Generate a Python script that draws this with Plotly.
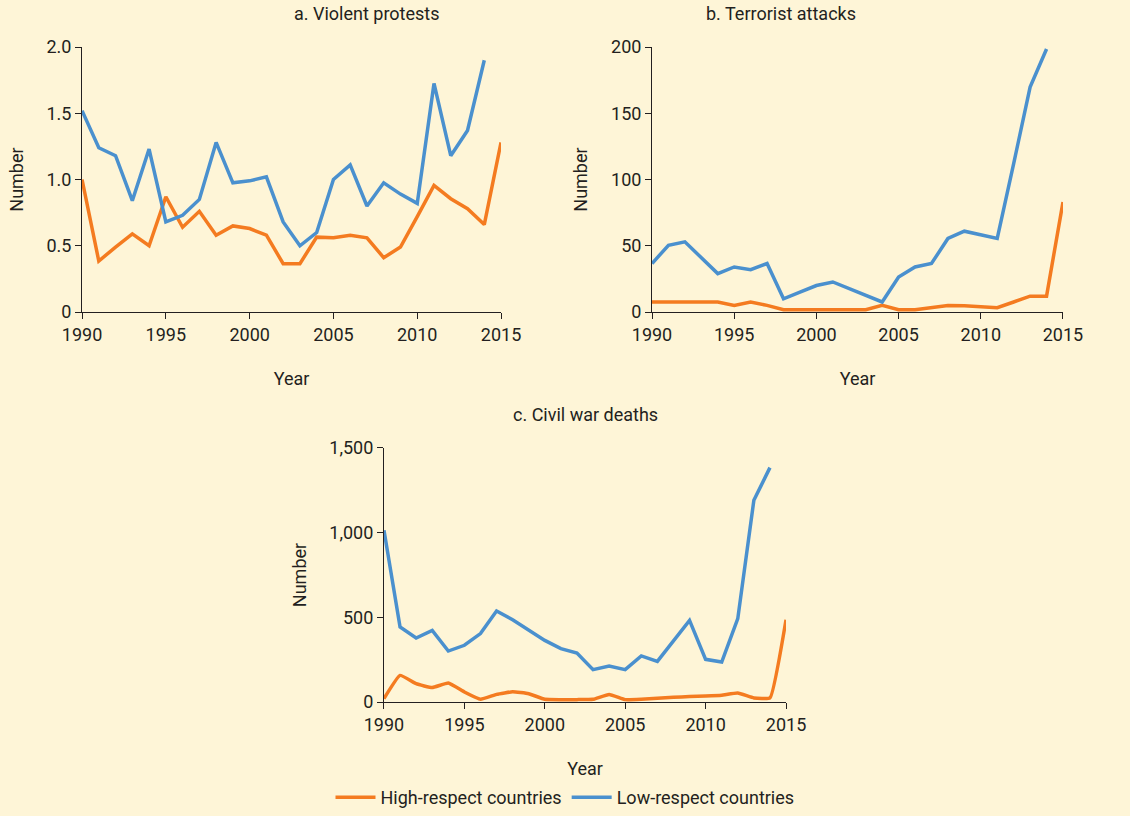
import plotly.graph_objects as go

# --- données ---
years = list(range(1990, 2016))
years_low = list(range(1990, 2015))  # pas de point 2015 pour les pays "low-respect"

protests_high = [1.00, 0.385, 0.49, 0.59, 0.50, 0.87, 0.64, 0.76, 0.58, 0.65, 0.63, 0.58, 0.365,
                 0.365, 0.565, 0.56, 0.58, 0.56, 0.41, 0.49, 0.72, 0.955, 0.855, 0.78, 0.66, 1.28]
protests_low = [1.52, 1.24, 1.18, 0.84, 1.23, 0.68, 0.73, 0.85, 1.28, 0.975, 0.99, 1.02, 0.68,
                0.50, 0.60, 1.00, 1.11, 0.80, 0.975, 0.89, 0.82, 1.725, 1.18, 1.37, 1.90]

terror_high = [7.6, 7.6, 7.6, 7.6, 7.6, 5, 7.6, 5, 1.8, 1.8, 1.8, 1.8, 1.8, 1.8, 5, 1.8, 1.8,
               3.3, 5, 4.8, 4.3, 3.3, 7.6, 12, 12, 83]
terror_low = [36.6, 50.4, 53, 41, 29, 34, 32, 36.6, 10, 15, 20, 22.7, 17.6, 12.6, 7.6, 26.5, 34,
              36.6, 55.5, 61, 58.5, 55.5, 112, 169.7, 198.5]

deaths_high = [20, 157, 108, 85, 112, 59, 16, 45, 60, 49, 16, 14, 14, 16, 45, 14, 16, 22, 28, 32,
               35, 40, 53, 24, 24, 486]
deaths_low = [1014, 443, 378, 423, 301, 335, 404, 537, 486, 423, 364, 315, 289, 191, 213, 191, 272,
              240, 364, 482, 252, 236, 492, 1191, 1384]

panel_titles = ["a. Violent protests", "b. Terrorist attacks", "c. Civil war deaths"]
y_ranges = [[0, 2.0], [0, 200], [0, 1500]]
y_ticks = [[0, 0.5, 1.0, 1.5, 2.0], [0, 50, 100, 150, 200], [0, 500, 1000, 1500]]
y_ticktext = [["0", "0.5", "1.0", "1.5", "2.0"], ["0", "50", "100", "150", "200"],
              ["0", "500", "1,000", "1,500"]]
x_ticks = [1990, 1995, 2000, 2005, 2010, 2015]

ORANGE = "#F47B20"
BLUE = "#4A90CE"
BG = "#FEF5D7"
INK = "#231F20"
FONT = "Liberation Sans Narrow, Roboto, Arial"

# domaines (fraction du papier) des trois panneaux
x_domains = [[0.0726, 0.4434], [0.5770, 0.9407], [0.3398, 0.6956]]
y_domains = [[0.6176, 0.9424], [0.6176, 0.9424], [0.1397, 0.4510]]

series = [
    (protests_high, protests_low, "linear"),
    (terror_high, terror_low, "linear"),
    (deaths_high, deaths_low, "spline"),
]

fig = go.Figure()
for i, (high, low, shape) in enumerate(series):
    n = "" if i == 0 else str(i + 1)
    fig.add_trace(go.Scatter(
        x=years, y=high, mode="lines", name="High-respect countries",
        line=dict(color=ORANGE, width=3.5, shape=shape, smoothing=0.35),
        xaxis="x" + n, yaxis="y" + n, showlegend=(i == 0),
    ))
    fig.add_trace(go.Scatter(
        x=years_low, y=low, mode="lines", name="Low-respect countries",
        line=dict(color=BLUE, width=3.5),
        xaxis="x" + n, yaxis="y" + n, showlegend=(i == 0),
    ))

    axis_common = dict(showline=True, linecolor=INK, linewidth=1, ticks="outside",
                       tickcolor=INK, ticklen=6, showgrid=False, zeroline=False,
                       automargin=False,
                       tickfont=dict(size=18, color=INK, family=FONT))
    fig.layout["xaxis" + n] = dict(
        domain=x_domains[i], anchor="y" + n, range=[1990, 2015],
        tickvals=x_ticks, title=dict(text="Year", font=dict(size=18, color=INK, family=FONT),
                                     standoff=28),
        **axis_common,
    )
    fig.layout["yaxis" + n] = dict(
        domain=y_domains[i], anchor="x" + n, range=y_ranges[i],
        tickvals=y_ticks[i], ticktext=y_ticktext[i],
        title=dict(text="Number", font=dict(size=18, color=INK, family=FONT), standoff=18),
        **axis_common,
    )
    fig.add_annotation(
        text=panel_titles[i], showarrow=False, xref="paper", yref="paper",
        x=sum(x_domains[i]) / 2, y=y_domains[i][1] + 0.026, yanchor="bottom",
        font=dict(size=18, color=INK, family=FONT),
    )

fig.update_layout(
    width=1130, height=816,
    margin=dict(l=0, r=0, t=0, b=0, autoexpand=False),
    paper_bgcolor=BG, plot_bgcolor=BG,
    font=dict(family=FONT, color=INK),
    legend=dict(orientation="h", x=0.5, xanchor="center", y=0.0, yanchor="bottom",
                font=dict(size=18, color=INK, family=FONT), itemwidth=40,
                bgcolor="rgba(0,0,0,0)"),
)

fig.write_html("out.html", config={"displayModeBar": False},
               post_script="document.body.style.margin='0';")
